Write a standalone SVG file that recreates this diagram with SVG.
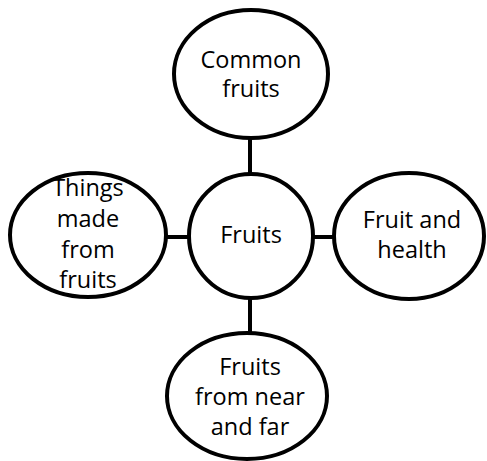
<svg xmlns="http://www.w3.org/2000/svg" width="487" height="461" viewBox="0 0 487 461">
<style>
.n{fill:#fff;stroke:#000;stroke-width:4}
.c{stroke:#000;stroke-width:4;fill:none}
text{font-family:"Open Sans","Liberation Sans",sans-serif;font-size:23.5px;fill:#000;text-anchor:middle}
</style>
<rect width="487" height="461" fill="#fff"/>
<g id="connectors">
<line class="c" x1="250" y1="137" x2="250" y2="174"/>
<line class="c" x1="166" y1="237" x2="189" y2="237"/>
<line class="c" x1="313" y1="237" x2="334" y2="237"/>
<line class="c" x1="250" y1="298" x2="250" y2="334"/>
</g>
<g id="common">
<ellipse class="n" cx="251" cy="74" rx="77" ry="64"/>
<text x="251" y="68">Common</text>
<text x="251" y="97">fruits</text>
</g>
<g id="fruits">
<circle class="n" cx="251" cy="236" r="62"/>
<text x="251" y="243">Fruits</text>
</g>
<g id="things">
<ellipse class="n" cx="88" cy="235" rx="78" ry="62"/>
<text x="88" y="196">Things</text>
<text x="88" y="227">made</text>
<text x="88" y="258">from</text>
<text x="88" y="288">fruits</text>
</g>
<g id="health">
<ellipse class="n" cx="409" cy="236" rx="75" ry="63"/>
<text x="412" y="228">Fruit and</text>
<text x="412" y="258">health</text>
</g>
<g id="nearfar">
<ellipse class="n" cx="247" cy="396" rx="80" ry="63"/>
<text x="250" y="375">Fruits</text>
<text x="250" y="405">from near</text>
<text x="250" y="435">and far</text>
</g>
</svg>
